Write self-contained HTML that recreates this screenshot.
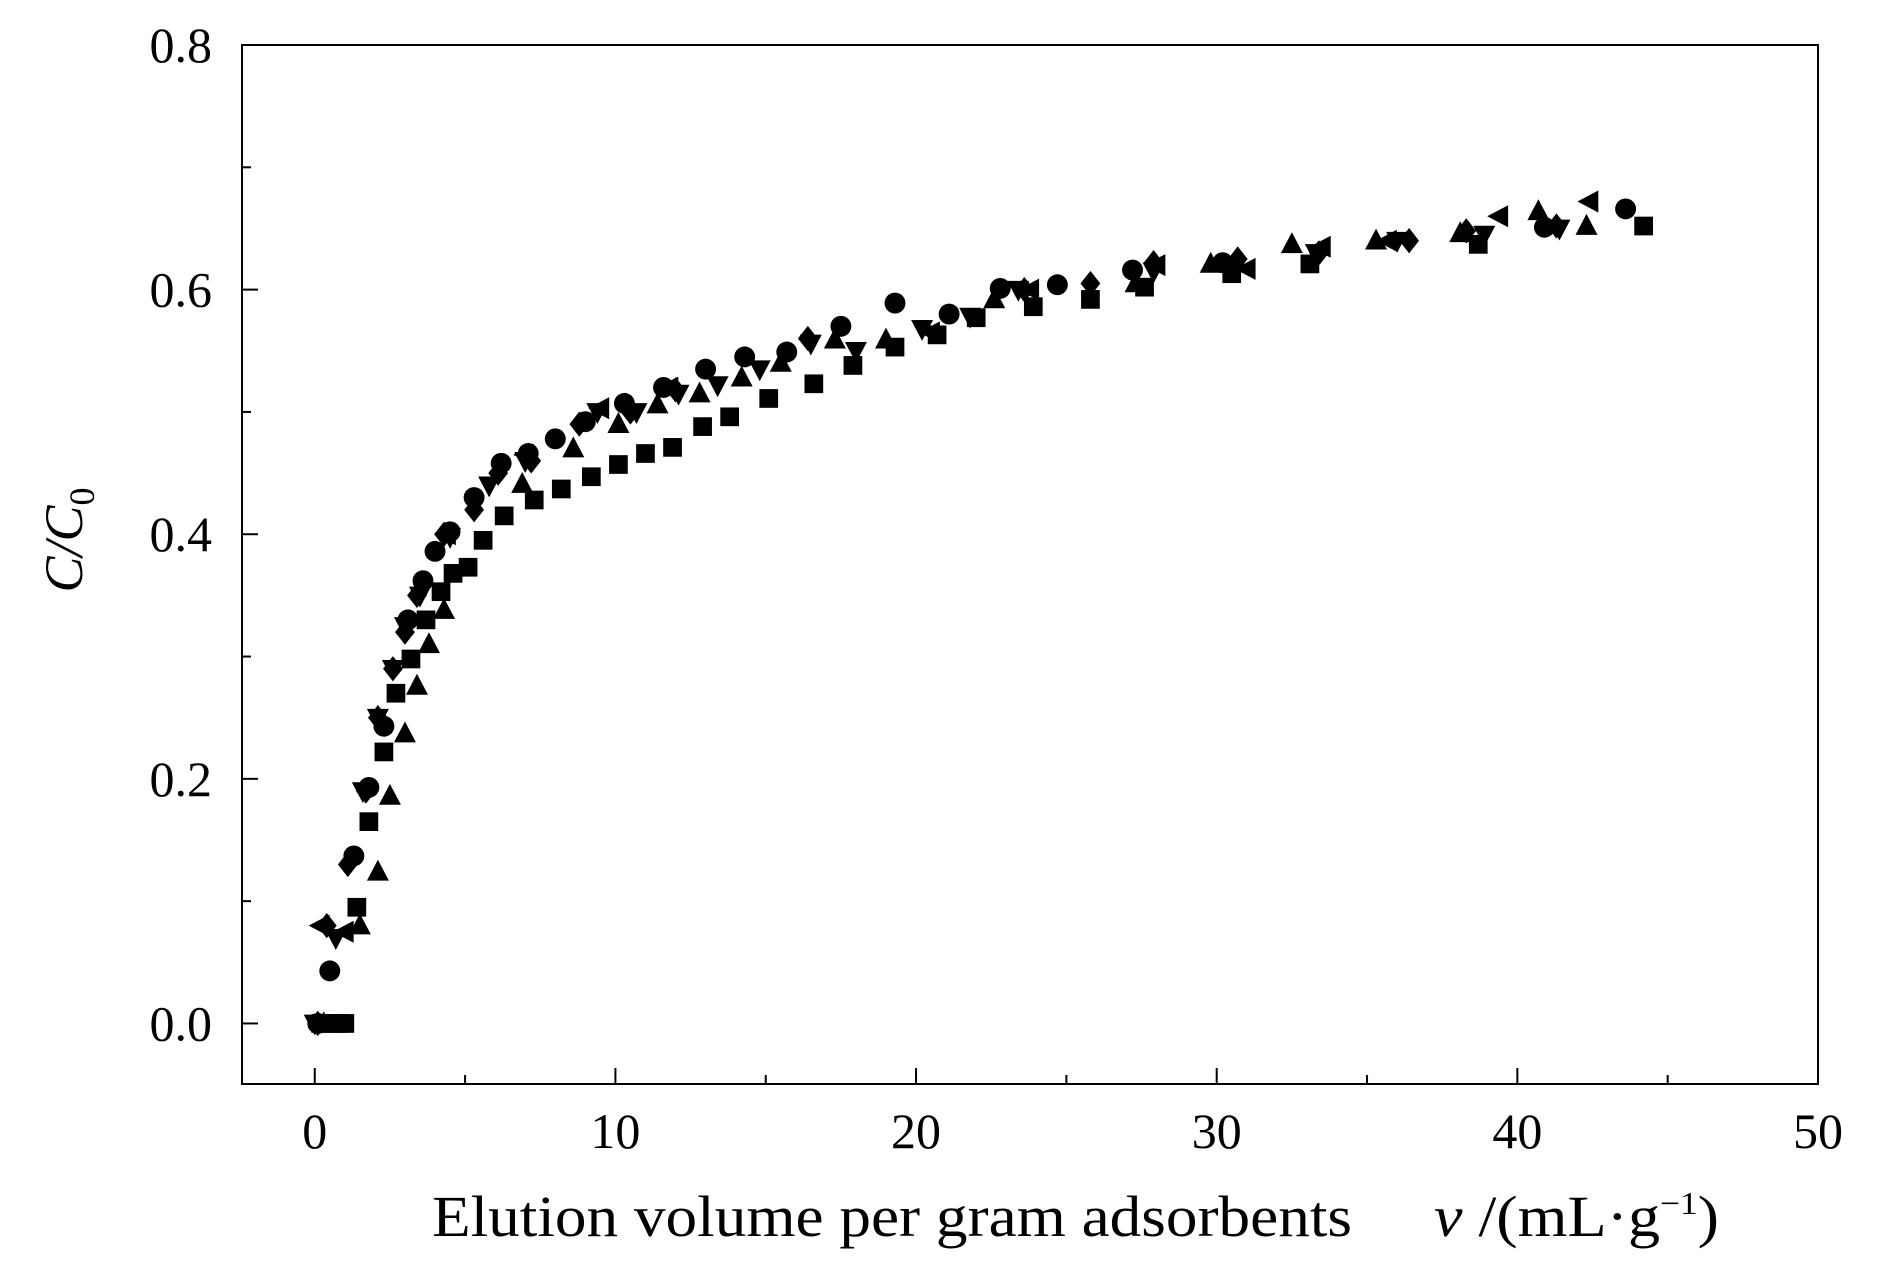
<!DOCTYPE html>
<html><head><meta charset="utf-8"><style>
html,body{margin:0;padding:0;background:#fff;}
svg{display:block;font-family:"Liberation Serif",serif;}
</style></head><body>
<svg id="chart" width="1890" height="1276" viewBox="0 0 1890 1276">
<g id="axes"></g>
<g id="marks"></g>
<text transform="translate(82,540) rotate(-90)" text-anchor="middle" font-size="54" font-style="italic">C/C<tspan font-size="36" dy="12" font-style="normal">0</tspan></text>
<text x="432" y="1236" font-size="58" textLength="920" lengthAdjust="spacingAndGlyphs">Elution volume per gram adsorbents</text>
<text x="1434" y="1236" font-size="58" textLength="285" lengthAdjust="spacingAndGlyphs"><tspan font-style="italic">v</tspan> /(mL·g<tspan font-size="32" dy="-22">−1</tspan><tspan dy="22">)</tspan></text>
</svg>
<script>
const xTicks=[0,10,20,30,40,50];
const xMinor=[5,15,25,35,45];
const yTicks=[0.0,0.2,0.4,0.6,0.8];
const yMinor=[0.1,0.3,0.5,0.7];
const squareX=[0.2,0.5,0.8,1.0,1.4,1.8,2.3,2.7,3.2,3.7,4.2,4.6,5.1,5.6,6.3,7.3,8.2,9.2,10.1,11.0,11.9,12.9,13.8,15.1,16.6,17.9,19.3,20.7,22.0,23.9,25.8,27.6,30.5,33.1,38.7,44.2];
const squareY=[0,0,0,0,0.095,0.165,0.222,0.27,0.298,0.33,0.353,0.368,0.373,0.395,0.415,0.428,0.437,0.447,0.457,0.466,0.471,0.488,0.496,0.511,0.523,0.538,0.553,0.563,0.577,0.586,0.592,0.602,0.613,0.621,0.637,0.652];
const circleX=[0.1,0.5,1.3,1.8,2.3,3.1,3.6,4.0,4.5,5.3,6.2,7.1,8.0,9.0,10.3,11.6,13.0,14.3,15.7,17.5,19.3,21.1,22.8,24.7,27.2,30.2,40.9,43.6];
const circleY=[0,0.043,0.137,0.193,0.243,0.33,0.362,0.386,0.402,0.43,0.458,0.466,0.478,0.492,0.507,0.52,0.535,0.545,0.549,0.57,0.589,0.58,0.601,0.604,0.616,0.622,0.651,0.666];
const triUpX=[0.3,1.5,2.1,2.5,3.0,3.4,3.8,4.3,6.9,8.6,10.1,11.4,12.8,14.2,15.5,17.3,19.0,22.6,27.3,29.8,32.5,35.3,38.1,40.7,42.3];
const triUpY=[0,0.08,0.124,0.186,0.237,0.276,0.31,0.338,0.441,0.47,0.49,0.506,0.515,0.528,0.54,0.559,0.559,0.592,0.605,0.621,0.637,0.64,0.646,0.664,0.652];
const triDownX=[0,0.7,1.6,2.1,2.6,3.0,3.5,4.5,5.8,7.0,9.4,10.7,12.1,13.4,14.8,16.5,18.0,20.2,21.8,23.4,27.9,30.6,33.3,36.0,38.9,41.4];
const triDownY=[0,0.07,0.19,0.25,0.29,0.325,0.35,0.398,0.44,0.46,0.5,0.5,0.515,0.522,0.535,0.556,0.55,0.568,0.578,0.6,0.615,0.618,0.63,0.64,0.645,0.65];
const diamondX=[0.1,0.4,1.1,1.7,2.1,2.6,3.0,3.4,4.3,5.3,6.1,7.2,8.8,10.5,12.0,16.4,23.6,25.8,27.9,30.7,33.4,36.4,38.3,41.3];
const diamondY=[0,0.08,0.13,0.19,0.25,0.29,0.32,0.35,0.4,0.42,0.45,0.46,0.49,0.5,0.518,0.56,0.6,0.605,0.622,0.625,0.63,0.64,0.648,0.652];
const triLeftX=[0.2,1.0,4.4,7.0,9.5,11.8,20.5,23.8,28.0,31.0,33.5,35.7,39.4,42.4];
const triLeftY=[0.08,0.075,0.4,0.465,0.503,0.52,0.565,0.6,0.62,0.617,0.635,0.64,0.66,0.672];

const L=242,R=1818,T=45,B=1084;
const xMin=-2.42,xMax=50,yMin=-0.0495,yMax=0.8;
const sx=v=>L+(v-xMin)/(xMax-xMin)*(R-L);
const sy=v=>B-(v-yMin)/(yMax-yMin)*(B-T);
const NS="http://www.w3.org/2000/svg";
const axes=document.getElementById('axes');
const marks=document.getElementById('marks');
function mk(tag,attrs,parent){const e=document.createElementNS(NS,tag);for(const k in attrs)e.setAttribute(k,attrs[k]);parent.appendChild(e);return e;}
const frame=mk('rect',{x:L,y:T,width:R-L,height:B-T,fill:'none',stroke:'#000','stroke-width':2},axes);


xTicks.forEach(v=>{
 const t=mk('line',{x1:sx(v),x2:sx(v),y1:B,y2:B-16,stroke:'#000','stroke-width':2},axes);
 
 
 const lb=mk('text',{x:sx(v),y:B+64,'text-anchor':'middle','font-size':50},axes);
 lb.textContent=String(v);
 
 
});
xMinor.forEach(v=>{
 const t=mk('line',{x1:sx(v),x2:sx(v),y1:B,y2:B-9,stroke:'#000','stroke-width':2},axes);
 
 
});
yTicks.forEach(v=>{
 const t=mk('line',{x1:L,x2:L+16,y1:sy(v),y2:sy(v),stroke:'#000','stroke-width':2},axes);
 
 
 const lb=mk('text',{x:L-30,y:sy(v)+17,'text-anchor':'end','font-size':50},axes);
 lb.textContent=v.toFixed(1);
 
 
});
yMinor.forEach(v=>{
 const t=mk('line',{x1:L,x2:L+9,y1:sy(v),y2:sy(v),stroke:'#000','stroke-width':2},axes);
 
 
});
const s=11;
function shape(kind,x,y){
 const cx=sx(x),cy=sy(y);let e;
 if(kind==='square')e=mk('rect',{x:cx-s*0.85,y:cy-s*0.85,width:s*1.7,height:s*1.7},marks);
 else if(kind==='circle')e=mk('circle',{cx:cx,cy:cy,r:s*0.95},marks);
 else{let p;
  if(kind==='up')p=[[0,-s*1.1],[s,s*0.8],[-s,s*0.8]];
  else if(kind==='down')p=[[0,s*1.1],[s,-s*0.8],[-s,-s*0.8]];
  else if(kind==='left')p=[[-s*1.1,0],[s*0.8,-s],[s*0.8,s]];
  else p=[[0,-s*1.15],[s*0.9,0],[0,s*1.15],[-s*0.9,0]];
  e=mk('polygon',{points:p.map(q=>(cx+q[0])+','+(cy+q[1])).join(' ')},marks);}
 e.setAttribute('fill','#000');
 return e;
}
function series(kind,xs,ys,name){
 xs.forEach((x,i)=>{const e=shape(kind,x,ys[i]);
  
  });
}
series('square',squareX,squareY,'square-point');
series('up',triUpX,triUpY,'triangle-up-point');
series('down',triDownX,triDownY,'triangle-down-point');
series('diamond',diamondX,diamondY,'diamond-point');
series('left',triLeftX,triLeftY,'triangle-left-point');
series('circle',circleX,circleY,'circle-point');
</script>
</body></html>
